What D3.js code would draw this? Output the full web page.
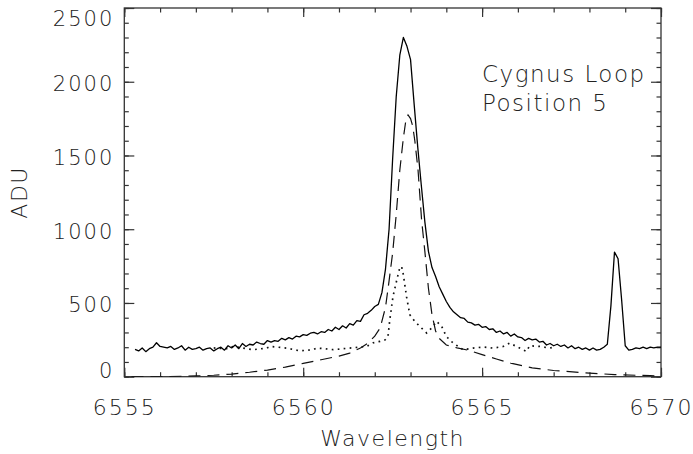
<!DOCTYPE html>
<html>
<head>
<meta charset="utf-8">
<script src="https://cdn.jsdelivr.net/npm/d3@7/dist/d3.min.js"></script>
<style>
  body { margin: 0; background: #fff; }
  text { font-family: "DejaVu Sans", sans-serif; font-weight: 200; fill: #222; }
</style>
</head>
<body>
<svg id="chart" width="693" height="454"></svg>
<script>
// axis ticks
const yTicks = [0, 500, 1000, 1500, 2000, 2500];
const xTicks = [6555, 6560, 6565, 6570];
const noteLines = ["Cygnus Loop", "Position 5"];

// observed spectrum, sampled every 0.1 A starting at 6555.3
const obsStart = 6555.3;
const obsStep = 0.1;
const obsFlux = [
    185,175,195,170,190,200,230,205,200,195,
    205,185,195,210,180,200,185,190,200,180,
    190,195,175,190,200,180,210,195,215,190,
    225,205,220,215,235,225,220,245,235,245,
    240,260,250,265,255,275,270,285,280,295,
    300,290,305,300,320,310,335,320,345,330,
    360,350,380,375,420,430,450,476,490,570,
    730,1000,1480,1900,2180,2300,2240,2150,1850,1560,
    1300,1050,850,740,680,610,560,510,470,440,
    420,400,395,370,365,350,355,335,340,320,
    325,300,310,290,300,275,290,270,265,245,
    260,250,255,235,240,215,225,210,220,205,
    215,195,210,190,200,185,195,180,195,180,
    185,200,220,480,845,800,520,210,180,185,
    195,190,200,190,200,195,200,200
];

// broad component (dashed)
const broadWave = [6555.2,6556.0,6557.0,6557.5,6558.0,6558.5,6559.0,6559.5,6560.0,6560.5,
    6561.0,6561.3,6561.6,6561.8,6562.0,6562.15,6562.3,6562.4,6562.5,6562.6,
    6562.7,6562.8,6562.87,6562.93,6563.0,6563.06,6563.12,6563.21,6563.31,6563.4,
    6563.5,6563.6,6563.7,6563.8,6564.0,6564.3,6564.6,6565.0,6565.4,6565.8,
    6566.4,6567.0,6567.8,6568.7,6569.7,6570.0];
const broadFlux = [0,0,5,10,18,30,45,65,90,115,
    140,160,195,225,275,330,470,650,840,1100,
    1400,1620,1740,1775,1750,1700,1600,1400,1060,850,
    600,420,310,260,215,195,180,150,120,92,
    60,42,28,14,7,5];

// narrow residual (dotted)
const narrowWave = [6557.5,6557.86,6558.04,6558.3,6558.6,6558.98,6559.07,6559.3,6559.54,6559.9,
    6560.28,6560.37,6560.6,6560.84,6561.05,6561.3,6561.55,6561.77,6561.96,6562.15,
    6562.29,6562.37,6562.42,6562.51,6562.61,6562.7,6562.75,6562.8,6562.89,6562.98,
    6563.12,6563.26,6563.45,6563.59,6563.73,6563.87,6564.0,6564.19,6564.47,6564.75,
    6565.03,6565.31,6565.59,6565.77,6565.96,6566.24,6566.33,6566.61,6566.89,6567.0];
const narrowFlux = [195,190,205,195,183,194,205,200,194,175,
    183,194,190,183,188,194,200,205,230,240,
    250,273,386,544,650,740,747,690,540,420,
    375,341,296,330,375,341,273,228,183,194,
    201,194,205,228,205,171,210,205,194,200];

const svg = d3.select('#chart');
const plotLeft = 124.3, plotRight = 661, plotTop = 8, plotBottom = 376.7;

const x = d3.scaleLinear().domain([6555, 6570]).range([plotLeft, plotRight]);
const y = d3.scaleLinear().domain([0, 2500]).range([plotBottom, plotTop]);

const axisColor = '#333';

// frame
svg.append('rect')
    .attr('x', plotLeft).attr('y', plotTop)
    .attr('width', plotRight - plotLeft).attr('height', plotBottom - plotTop)
    .attr('fill', 'none').attr('stroke', axisColor).attr('stroke-width', 1.3);

const xMinor = d3.range(6555, 6571, 1);
const yMinor = d3.range(0, 2501, 100);

function styleAxis(g) {
    g.select('.domain').remove();
    g.selectAll('line').attr('stroke', axisColor).attr('stroke-width', 1.2);
}

// minor ticks on all four sides
svg.append('g').attr('transform', `translate(0,${plotBottom})`)
    .call(d3.axisBottom(x).tickValues(xMinor).tickSize(-4.5).tickFormat(''))
    .call(styleAxis);
svg.append('g').attr('transform', `translate(0,${plotTop})`)
    .call(d3.axisTop(x).tickValues(xMinor).tickSize(-4.5).tickFormat(''))
    .call(styleAxis);
svg.append('g').attr('transform', `translate(${plotLeft},0)`)
    .call(d3.axisLeft(y).tickValues(yMinor).tickSize(-4.5).tickFormat(''))
    .call(styleAxis);
svg.append('g').attr('transform', `translate(${plotRight},0)`)
    .call(d3.axisRight(y).tickValues(yMinor).tickSize(-4.5).tickFormat(''))
    .call(styleAxis);

// major ticks
const xAxis = svg.append('g').attr('transform', `translate(0,${plotBottom})`)
    .call(d3.axisBottom(x).tickValues(xTicks).tickSize(-9).tickPadding(0).tickFormat(d3.format('d')))
    .call(styleAxis);
svg.append('g').attr('transform', `translate(0,${plotTop})`)
    .call(d3.axisTop(x).tickValues(xTicks).tickSize(-9).tickFormat(''))
    .call(styleAxis);
const yAxis = svg.append('g').attr('transform', `translate(${plotLeft},0)`)
    .call(d3.axisLeft(y).tickValues(yTicks).tickSize(-10).tickFormat(d3.format('d')))
    .call(styleAxis);
svg.append('g').attr('transform', `translate(${plotRight},0)`)
    .call(d3.axisRight(y).tickValues(yTicks).tickSize(-10).tickFormat(''))
    .call(styleAxis);

xAxis.selectAll('text')
    .attr('y', 38).attr('dy', 0)
    .style('font-size', '22px').style('letter-spacing', '2px')
    .attr('fill', '#222');

yAxis.selectAll('text')
    .attr('x', -10).attr('dy', d => d === 0 ? '0.05em' : d === 2500 ? '0.82em' : '0.42em')
    .style('font-size', '21px').style('letter-spacing', '2px')
    .attr('fill', '#222');

// axis titles
svg.append('text')
    .attr('x', (plotLeft + plotRight) / 2).attr('y', 446)
    .attr('text-anchor', 'middle')
    .style('font-size', '22px').style('letter-spacing', '1.5px')
    .text('Wavelength');

svg.append('text')
    .attr('transform', `translate(27,${(plotTop + plotBottom) / 2}) rotate(-90)`)
    .attr('text-anchor', 'middle')
    .style('font-size', '22px').style('letter-spacing', '1.5px')
    .text('ADU');

svg.selectAll('text.note')
    .data(noteLines)
    .enter().append('text')
    .attr('class', 'note')
    .attr('x', 482).attr('y', (d, i) => 82 + i * 29)
    .style('font-size', '23px').style('letter-spacing', '1.5px')
    .text(d => d);

// curves
svg.append('clipPath').attr('id', 'plotclip')
    .append('rect').attr('x', plotLeft).attr('y', plotTop)
    .attr('width', plotRight - plotLeft).attr('height', plotBottom - plotTop);

const plot = svg.append('g').attr('clip-path', 'url(#plotclip)');

const line = d3.line().x(d => x(d[0])).y(d => y(d[1]));

const obsData = obsFlux.map((v, i) => [obsStart + i * obsStep, v]);
const broadData = broadWave.map((w, i) => [w, broadFlux[i]]);
const narrowData = narrowWave.map((w, i) => [w, narrowFlux[i]]);

plot.append('path').datum(broadData)
    .attr('d', line)
    .attr('fill', 'none').attr('stroke', '#111').attr('stroke-width', 1.2)
    .attr('stroke-dasharray', '12,7');

plot.append('path').datum(narrowData)
    .attr('d', line)
    .attr('fill', 'none').attr('stroke', '#111').attr('stroke-width', 1.7)
    .attr('stroke-dasharray', '1.7,4.3');

plot.append('path').datum(obsData)
    .attr('d', line)
    .attr('fill', 'none').attr('stroke', '#000').attr('stroke-width', 1.3)
    .attr('stroke-linejoin', 'round');
</script>
</body>
</html>
